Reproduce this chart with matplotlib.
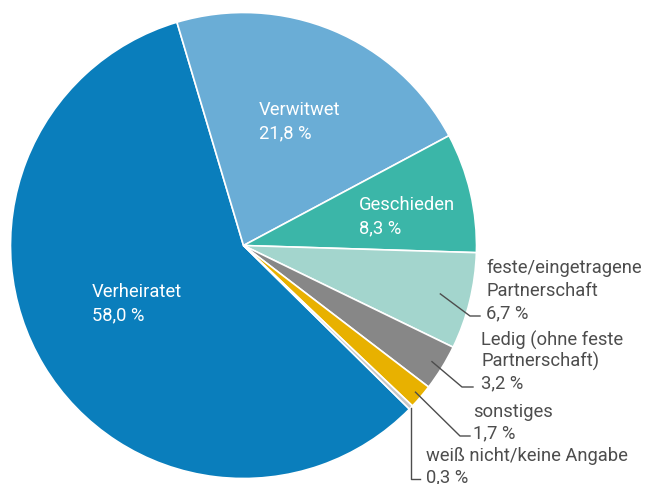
import numpy as np
import matplotlib
matplotlib.use("Agg")
import matplotlib.pyplot as plt

labels = ["Verheiratet", "Verwitwet", "Geschieden", "feste/eingetragene\nPartnerschaft",
          "Ledig (ohne feste\nPartnerschaft)", "sonstiges", "weiß nicht/keine Angabe"]
values = [58.0, 21.8, 8.3, 6.7, 3.2, 1.7, 0.3]
value_text = ["58,0 %", "21,8 %", "8,3 %", "6,7 %", "3,2 %", "1,7 %", "0,3 %"]
colors = ["#0a7ebc", "#6aadd6", "#3bb6a8", "#a3d5cd", "#878787", "#e8b100", "#c8c8c8"]

W, H = 652, 485
fig = plt.figure(figsize=(W / 100, H / 100), dpi=100)
ax = fig.add_axes([0, 0, 1, 1])

cx, cy, R = 243.5, H - 246.5, 233
wedges, _ = ax.pie(values, colors=colors, startangle=-44.6, counterclock=False,
                   center=(cx, cy), radius=R, frame=True,
                   wedgeprops=dict(edgecolor="white", linewidth=1.2))
ax.set_xlim(0, W)
ax.set_ylim(0, H)
ax.set_aspect("equal")
ax.axis("off")

FONT = "Roboto"
FS = 13.2
TXT = "#4d4d4d"

def py(y):
    return H - y

def put(x, ys, lines, color):
    for y, s in zip(ys, lines):
        ax.text(x, py(y), s, color=color, fontsize=FS, family=FONT, va="center", ha="left")

# inside labels (white)
inside = {0: (92, 292), 1: (259, 110), 2: (359, 205)}
for i, (x, y) in inside.items():
    put(x, [y, y + 23], [labels[i], value_text[i]], "white")

# outside labels
outside = {
    3: dict(rf=0.87, elbow=(470, 317), end=(480, 317), tx=486, ys=[268, 291, 313]),
    4: dict(rf=0.95, elbow=(462, 388), end=(473, 388), tx=481, ys=[340, 361, 383]),
    5: dict(rf=0.97, elbow=(460, 437), end=(470, 437), tx=473, ys=[412, 433]),
}
for i, d in outside.items():
    w = wedges[i]
    th = np.deg2rad((w.theta1 + w.theta2) / 2)
    sx, sy = cx + d["rf"] * R * np.cos(th), cy + d["rf"] * R * np.sin(th)
    ex, ey = d["elbow"]
    fx, fy = d["end"]
    ax.plot([sx, ex, fx], [sy, py(ey), py(fy)], color="#4d4d4d", lw=1.0)
    put(d["tx"], d["ys"], labels[i].split("\n") + [value_text[i]], TXT)

# weiß nicht: vertical leader
w = wedges[6]
th = np.deg2rad((w.theta1 + w.theta2) / 2)
sx, sy = cx + 1.0 * R * np.cos(th), cy + 1.0 * R * np.sin(th)
ax.plot([sx, sx, 420], [sy, py(480), py(480)], color="#4d4d4d", lw=1.0)
put(426, [456, 477], [labels[6], value_text[6]], TXT)

fig.savefig("out.png", dpi=100)
